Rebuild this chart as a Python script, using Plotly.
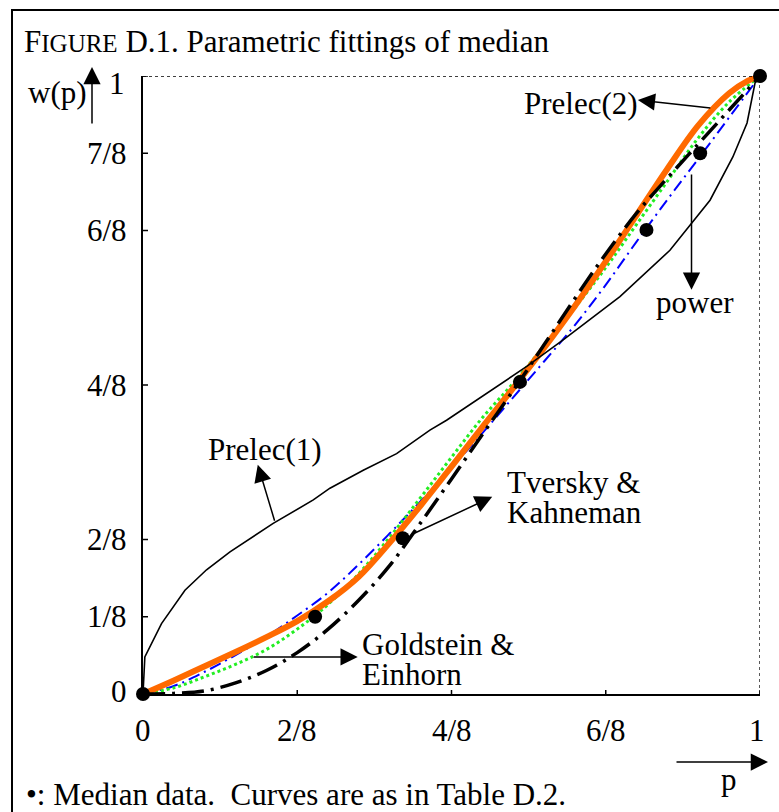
import plotly.graph_objects as go

# ---- data -------------------------------------------------------------
median_p = [0, 0.279, 0.421, 0.611, 0.816, 0.903, 1.0]
median_w = [0, 0.125, 0.252, 0.505, 0.751, 0.875, 1.0]

prelec1_p = [0, 0.003, 0.03, 0.068, 0.103, 0.141, 0.211, 0.276, 0.303, 0.357, 0.411,
             0.465, 0.492, 0.573, 0.622, 0.681, 0.773, 0.854, 0.919, 0.956, 0.979, 0.992, 1.0]
prelec1_w = [0, 0.06, 0.114, 0.168, 0.201, 0.23, 0.276, 0.314, 0.333, 0.362, 0.389,
             0.427, 0.443, 0.497, 0.530, 0.573, 0.643, 0.718, 0.799, 0.869, 0.924, 0.989, 1.0]

prelec2_p = [0, 0.05, 0.1, 0.15, 0.2, 0.25, 0.3, 0.35, 0.4, 0.45, 0.5,
             0.55, 0.6, 0.65, 0.7, 0.75, 0.8, 0.85, 0.9, 0.95, 0.98, 1.0]
prelec2_w = [0, 0.022, 0.045, 0.068, 0.092, 0.118, 0.150, 0.190, 0.245, 0.305, 0.368,
             0.432, 0.495, 0.560, 0.628, 0.700, 0.775, 0.850, 0.920, 0.972, 0.992, 1.0]

ge_p = [0, 0.05, 0.1, 0.15, 0.2, 0.25, 0.3, 0.35, 0.4, 0.45, 0.5,
        0.55, 0.6, 0.65, 0.7, 0.75, 0.8, 0.85, 0.9, 0.95, 1.0]
ge_w = [0, 0.010, 0.028, 0.048, 0.072, 0.105, 0.145, 0.195, 0.254, 0.318, 0.383,
        0.447, 0.503, 0.563, 0.625, 0.690, 0.760, 0.830, 0.900, 0.958, 1.0]

tk_p = [0, 0.05, 0.1, 0.15, 0.2, 0.25, 0.3, 0.35, 0.4, 0.45, 0.5,
        0.55, 0.6, 0.65, 0.7, 0.75, 0.8, 0.85, 0.9, 0.95, 1.0]
tk_w = [0, 0.001, 0.005, 0.018, 0.038, 0.067, 0.105, 0.152, 0.208, 0.277, 0.348,
        0.420, 0.491, 0.565, 0.640, 0.712, 0.778, 0.835, 0.890, 0.945, 1.0]

power_p = [0, 0.05, 0.1, 0.15, 0.2, 0.25, 0.3, 0.35, 0.4, 0.45, 0.5,
           0.55, 0.6, 0.65, 0.7, 0.75, 0.8, 0.85, 0.9, 0.95, 1.0]
power_w = [0, 0.013, 0.036, 0.063, 0.093, 0.127, 0.164, 0.210, 0.260, 0.312, 0.366,
           0.422, 0.480, 0.538, 0.597, 0.662, 0.732, 0.800, 0.866, 0.933, 1.0]

x_ticks = [0, 0.25, 0.5, 0.75, 1.0]
x_tick_text = ["0", "2/8", "4/8", "6/8", "1"]
y_ticks = [0, 0.125, 0.25, 0.5, 0.75, 0.875, 1.0]
y_tick_text = ["0", "1/8", "2/8", "4/8", "6/8", "7/8", "1"]

# ---- page geometry ----------------------------------------------------
W, H = 779, 812
ML, MR, MT, MB = 143, 19, 76, 118
PW, PH = W - ML - MR, H - MT - MB
FONT = "Liberation Serif, Times New Roman, serif"
FS = 31


def px(x):
    return (x - ML) / PW


def py(y):
    return (H - MB - y) / PH


fig = go.Figure()

fig.add_trace(go.Scatter(x=power_p, y=power_w, mode="lines", line_shape="spline",
                         line=dict(color="#0000ff", width=2, dash="12px,5px,2px,5px"),
                         cliponaxis=False, hoverinfo="skip"))
fig.add_trace(go.Scatter(x=ge_p, y=ge_w, mode="lines", line_shape="spline",
                         line=dict(color="#22ee22", width=3, dash="dot"),
                         cliponaxis=False, hoverinfo="skip"))
fig.add_trace(go.Scatter(x=prelec2_p, y=prelec2_w, mode="lines", line_shape="spline",
                         line=dict(color="#ff6a00", width=6),
                         cliponaxis=False, hoverinfo="skip"))
fig.add_trace(go.Scatter(x=tk_p, y=tk_w, mode="lines", line_shape="spline",
                         line=dict(color="black", width=3.5, dash="22px,7px,3px,7px"),
                         cliponaxis=False, hoverinfo="skip"))
fig.add_trace(go.Scatter(x=prelec1_p, y=prelec1_w, mode="lines",
                         line=dict(color="black", width=1.6),
                         cliponaxis=False, hoverinfo="skip"))
fig.add_trace(go.Scatter(x=median_p, y=median_w, mode="markers",
                         marker=dict(color="black", size=14),
                         cliponaxis=False, hoverinfo="skip"))

shapes = [
    # frame around the figure
    dict(type="rect", xref="paper", yref="paper", x0=px(12), y0=py(10), x1=px(830), y1=py(860),
         line=dict(color="black", width=2)),
    # dotted guides at w = 1 and p = 1
    dict(type="line", xref="x", yref="y", x0=0, x1=1, y0=1, y1=1,
         line=dict(color="black", width=1.3, dash="dot")),
    dict(type="line", xref="x", yref="y", x0=1, x1=1, y0=0, y1=1,
         line=dict(color="black", width=1.3, dash="dot")),
]
for xv in x_ticks:
    shapes.append(dict(type="line", xref="x", yref="y", x0=xv, x1=xv,
                       ysizemode="pixel", yanchor=0, y0=-10, y1=4,
                       line=dict(color="black", width=1.5)))
for yv in y_ticks:
    shapes.append(dict(type="line", xref="x", yref="y", y0=yv, y1=yv,
                       xsizemode="pixel", xanchor=0, x0=-12, x1=5,
                       line=dict(color="black", width=1.5)))

ann = []
txt = dict(family=FONT, size=FS, color="black")

# tick labels
for xv, t in zip(x_ticks, x_tick_text):
    ann.append(dict(x=xv, y=0, xref="x", yref="y", text=t, showarrow=False, font=txt,
                    xanchor="center", yanchor="middle", yshift=-36,
                    xshift=-3 if xv == 1 else 0))
for yv, t in zip(y_ticks, y_tick_text):
    if t == "1":
        ann.append(dict(x=0, y=yv, xref="x", yref="y", text=t, showarrow=False, font=txt,
                        xanchor="center", yanchor="middle", xshift=-26, yshift=-7))
    elif t == "0":
        ann.append(dict(x=0, y=yv, xref="x", yref="y", text=t, showarrow=False, font=txt,
                        xanchor="center", yanchor="middle", xshift=-24, yshift=3))
    else:
        ann.append(dict(x=0, y=yv, xref="x", yref="y", text=t, showarrow=False, font=txt,
                        xanchor="right", yanchor="middle", xshift=-14))

# title, axis names and footnote
ann.append(dict(x=px(22), y=py(41.5), xref="paper", yref="paper", showarrow=False,
                text="F<span style='font-size:25px'>IGURE</span> D.1. Parametric fittings of median",
                font=txt, xanchor="left", yanchor="middle"))
ann.append(dict(x=px(57), y=py(93), xref="paper", yref="paper", showarrow=False,
                text="w(p)", font=txt, xanchor="center", yanchor="middle"))
ann.append(dict(x=px(729), y=py(779), xref="paper", yref="paper", showarrow=False,
                text="p", font=txt, xanchor="center", yanchor="middle"))
ann.append(dict(x=px(24), y=py(794), xref="paper", yref="paper", showarrow=False,
                text="\u2022: Median data.\u00a0 Curves are as in Table D.2.",
                font=txt, xanchor="left", yanchor="middle"))

# axis direction arrows
arrow_style = dict(showarrow=True, text="", arrowhead=2, arrowsize=2.3, arrowwidth=1.5,
                   arrowcolor="black", standoff=0, startstandoff=0)
ann.append(dict(x=px(92), y=py(67), xref="paper", yref="paper", axref="pixel", ayref="pixel",
                ax=0, ay=58, **arrow_style))
ann.append(dict(x=px(768), y=py(762), xref="paper", yref="paper", axref="pixel", ayref="pixel",
                ax=-93, ay=0, **arrow_style))

# curve labels: (text lines, left x in p, centre y in w of first line)
labels = [
    (["Prelec(2)"], 0.615, 0.955),
    (["power"], 0.829, 0.634),
    (["Prelec(1)"], 0.102, 0.396),
    (["Tversky &", "Kahneman"], 0.587, 0.342),
    (["Goldstein &", "Einhorn"], 0.352, 0.080),
]
for lines, lx, ly in labels:
    for i, t in enumerate(lines):
        ann.append(dict(x=lx, y=ly - i * 30 / PH, xref="x", yref="y", text=t, showarrow=False,
                        font=txt, xanchor="left", yanchor="middle"))

# leader arrows from each curve to its label: (head p, head w, tail p, tail w)
leaders = [
    (0.802, 0.961, 0.922, 0.948),
    (0.889, 0.654, 0.889, 0.843),
    (0.186, 0.371, 0.214, 0.278),
    (0.566, 0.319, 0.433, 0.257),
    (0.348, 0.060, 0.177, 0.060),
]
for hx, hy, tx, ty in leaders:
    ann.append(dict(x=hx, y=hy, ax=tx, ay=ty, xref="x", yref="y", axref="x", ayref="y",
                    **arrow_style))

fig.update_layout(
    width=W, height=H, autosize=False,
    margin=dict(l=ML, r=MR, t=MT, b=MB, pad=0),
    paper_bgcolor="white", plot_bgcolor="white",
    showlegend=False,
    xaxis=dict(range=[0, 1], showgrid=False, zeroline=False, showline=True,
               linecolor="black", linewidth=1.5, showticklabels=False, ticks=""),
    yaxis=dict(range=[0, 1], showgrid=False, zeroline=False, showline=True,
               linecolor="black", linewidth=1.5, showticklabels=False, ticks=""),
    shapes=shapes, annotations=ann,
)

fig.write_html("out.html")
